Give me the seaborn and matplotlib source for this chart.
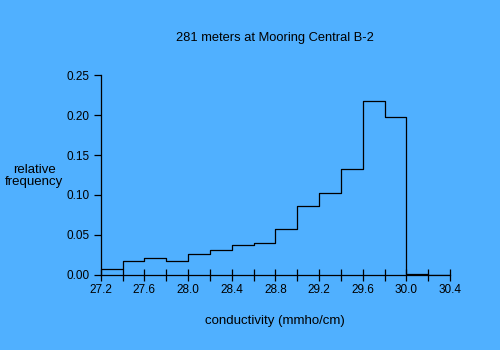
import matplotlib
matplotlib.use("Agg")
import matplotlib.pyplot as plt
import seaborn as sns
import numpy as np
from matplotlib.ticker import MultipleLocator, FormatStrFormatter

bin_edges = [27.2, 27.4, 27.6, 27.8, 28.0, 28.2, 28.4, 28.6, 28.8, 29.0,
             29.2, 29.4, 29.6, 29.8, 30.0, 30.2, 30.4]
rel_freq = [0.008, 0.018, 0.021, 0.018, 0.026, 0.031, 0.037, 0.040, 0.058,
            0.086, 0.102, 0.132, 0.217, 0.197, 0.001, 0.0]
title = "281 meters at Mooring Central B-2"
xlabel = "conductivity (mmho/cm)"
ylabel = "relative\nfrequency"

bg = "#50B0FF"
sns.set_theme(style="ticks")
plt.rcParams['font.family'] = ['Liberation Sans', 'DejaVu Sans']

fig = plt.figure(figsize=(5, 3.5), dpi=100, facecolor=bg)
ax = fig.add_axes([0.2014, 0.2143, 0.6986, 0.5714])
ax.set_facecolor(bg)

centers = [(a + b) / 2 for a, b in zip(bin_edges[:-1], bin_edges[1:])]
sns.histplot(x=centers, weights=rel_freq, bins=bin_edges, element="step",
             fill=False, color="black", linewidth=0.9, ax=ax)

ax.set_xlim(27.2, 30.4)
ax.set_ylim(0, 0.25)
ax.xaxis.set_major_locator(MultipleLocator(0.4))
ax.xaxis.set_minor_locator(MultipleLocator(0.2))
ax.xaxis.set_major_formatter(FormatStrFormatter('%.1f'))
ax.yaxis.set_major_locator(MultipleLocator(0.05))
ax.yaxis.set_major_formatter(FormatStrFormatter('%.2f'))

for s in ['top', 'right']:
    ax.spines[s].set_visible(False)
for s in ['left', 'bottom']:
    ax.spines[s].set_color('black')
    ax.spines[s].set_linewidth(0.9)

ax.tick_params(axis='x', which='both', direction='inout', length=9, width=0.9,
               color='black', labelsize=8.5, labelcolor='black', pad=2)
ax.tick_params(axis='y', which='major', direction='out', length=5, width=0.9,
               color='black', labelsize=8.5, labelcolor='black', pad=3)

ax.set_xlabel("")
ax.set_ylabel("")
fig.text(275 / 500, 1 - 37.5 / 350, title, ha='center', va='center',
         fontsize=9.3, color='black')
fig.text(34 / 500, 1 - 176 / 350, ylabel, ha='center', va='center',
         fontsize=9.5, color='black', linespacing=1.0)
fig.text(275 / 500, 1 - 321 / 350, xlabel, ha='center', va='center',
         fontsize=9.5, color='black')

fig.savefig("out.png", dpi=100, facecolor=bg)
